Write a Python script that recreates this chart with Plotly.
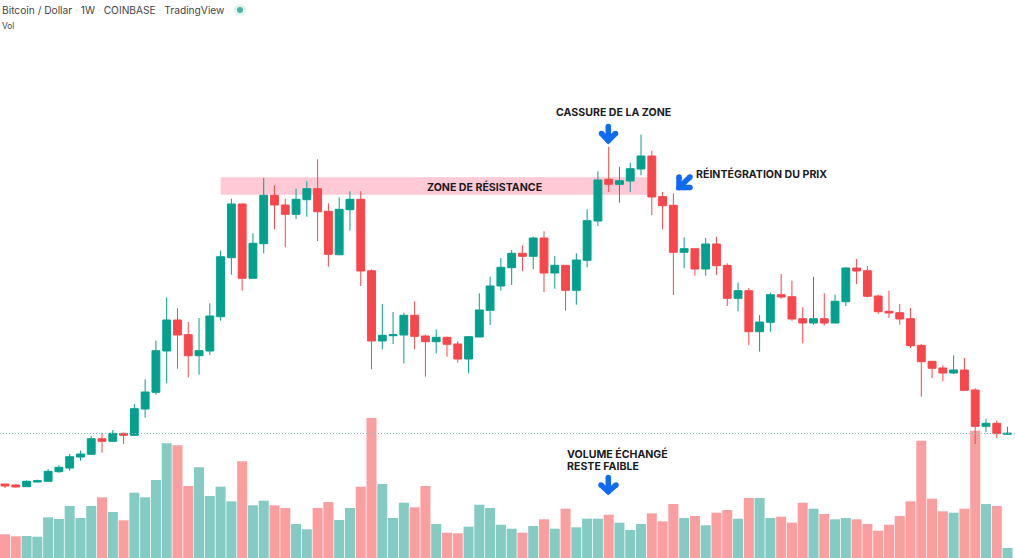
import plotly.graph_objects as go

W, H = 1015, 558
BAR_STEP = 10.78
FIRST_X = 5

GREEN = "#03A08E"
RED = "#F8474B"
VOL_GREEN = "#84CBC3"
VOL_RED = "#FB9EA0"
BLUE = "#0F6BF2"
INK = "#1C1C1E"

opens = [74, 73, 71.3, 76, 76.7, 86.3, 90, 101, 103.7, 119.3, 116.7, 124.7, 122.7, 149, 165.7, 207,
         238, 223.3, 202.3, 207, 241.3, 300.3, 354, 279.7, 314.3, 362.7, 353, 343.7, 358.3, 369.3, 346.7, 303.3,
         348.3, 358.7, 287.3, 217, 222.3, 223, 242.7, 222, 216.3, 220.7, 214, 199, 221, 247.7, 272, 290.3,
         304.7, 301.7, 320, 285, 292.7, 267.7, 297.7, 337, 378.7, 373.7, 377, 389, 402, 361.3, 352.7, 305.7,
         309.3, 289, 314, 292.7, 259.7, 267.3, 226.3, 235.7, 263.3, 261.3, 239.3, 235, 239.3, 235, 256.3, 290,
         287.3, 262, 246.7, 245.3, 239.3, 212.7, 196.7, 190, 185, 188, 168, 131.7, 134.7, 123.7]
highs = [74, 74, 77.7, 78.3, 89, 92.7, 104, 107.3, 122, 125.3, 128, 125.3, 154, 178.7, 217.3, 260.7,
         249.7, 236, 240, 254.7, 307.3, 359.3, 354.7, 324.7, 380, 372.7, 359.3, 369.3, 376.7, 398.7, 354.7, 360.7,
         366.7, 366.7, 288.7, 254, 246, 245.3, 256.7, 223.3, 228.7, 221.3, 216.7, 222, 264.7, 281.3, 300, 308,
         312.7, 321.3, 326.7, 302, 292.7, 304.7, 348.7, 386.7, 411.3, 391.3, 395.3, 423.3, 407.3, 366, 364.7, 320.7,
         309.3, 320, 321.3, 294.7, 275.3, 270, 243, 265.3, 284, 277.3, 250.7, 281.3, 264.7, 263.3, 290.7, 299,
         292, 263.3, 267.3, 254, 250, 214, 197, 192.7, 202.7, 200, 169.7, 139.3, 137.3, 131.3]
lows = [70, 70.5, 71.3, 75.7, 76.7, 85.3, 87.3, 97.3, 103.7, 105.3, 116.7, 114, 122, 140.3, 163.3, 174.7,
        189.3, 180.7, 183.3, 203, 237.3, 283.3, 267.3, 279.7, 304.7, 328.7, 310.7, 339, 341.3, 317, 291.3, 302.7,
        327.3, 272, 188.7, 208.7, 214, 194.7, 208.7, 181.3, 204.7, 201.3, 195.3, 184.7, 221, 233, 267.3, 273,
        286.7, 288.7, 266, 269.3, 247.3, 253.3, 290.7, 332, 366, 355.3, 366, 382.7, 343, 328.7, 263, 289.7,
        282.3, 282.3, 283, 252, 246.7, 212.7, 206.3, 226.3, 259.3, 237.3, 214.7, 233.3, 232.7, 234.7, 252, 274,
        260.7, 244, 240, 233.3, 210, 161.3, 180, 176.7, 184, 167.7, 114, 126, 120, 123.4]
closes = [72, 71, 76.7, 77.3, 86.7, 90.7, 101.3, 104, 119.3, 116.7, 124.7, 122.7, 149.3, 166, 207.3, 238,
          223, 202.3, 207.3, 242, 301.3, 354, 279.7, 314.7, 362.7, 353, 343.7, 358.7, 369.3, 346.3, 303.7, 348.7,
          358.7, 287, 217, 222.7, 223.3, 242.7, 221.7, 216.3, 220.7, 213.7, 199, 221.3, 248, 272, 290.7, 304.7,
          301.7, 320, 285, 292.7, 267.7, 298, 337.3, 378, 373.7, 377.3, 389.3, 402, 361, 352.3, 305.7, 309.3,
          289, 314, 292.3, 259.7, 267.3, 226.3, 236, 263.3, 261, 239, 235, 239.3, 235, 256.7, 290, 287,
          261.7, 246.3, 245, 239, 212.3, 196.3, 189.7, 185, 188, 167.7, 131.7, 134.7, 124.3, 124.7]
volumes = [23.7, 21.7, 22, 21.3, 40.7, 39, 52, 40, 52, 60.7, 46, 37.7, 65.3, 60.7, 78, 114.7,
           112.7, 72, 90.7, 62, 71.3, 56.7, 96.7, 52.7, 57.3, 52.7, 50, 34, 28.7, 50, 56, 38,
           50, 71.3, 140, 74, 40, 55.3, 50.7, 72, 34, 25.3, 24.7, 31.3, 53.3, 50, 33.3, 29.3,
           25.3, 32, 38.7, 29.3, 49.3, 30.7, 39.3, 39.3, 43.3, 35.3, 28, 34, 44.7, 36.7, 54, 40,
           42, 32.7, 45.3, 48, 39.3, 60, 60, 40, 41.3, 35.3, 55.3, 49.3, 44, 38.7, 40, 38.7,
           34, 27.3, 33.3, 42, 56.7, 117.3, 59.3, 46.7, 45.3, 49.3, 127.3, 54, 52, 10]
weeks = list(range(len(closes)))

zone_start, zone_end = 20, 60
zone_low, zone_high = 363.3, 380.7
last_price = 124.5

# arrows, as pixel points of the picture (tail, tip, two barbs)
arrows = [
    [(608.3, 126.5), (608.3, 140.5), (601.5, 133.5), (615.5, 133.5)],
    [(690, 177), (679, 187.5), (679, 177), (690, 187.5)],
    [(608.3, 477.5), (608.3, 491.5), (601, 485), (616, 485)],
]


def to_x(px):
    return (px - FIRST_X) / BAR_STEP


def to_y(py):
    return H - py


fig = go.Figure()

vol_colors = [VOL_GREEN if c >= o else VOL_RED for o, c in zip(opens, closes)]
fig.add_trace(go.Bar(x=weeks, y=volumes, marker=dict(color=vol_colors, line_width=0), showlegend=False))

fig.add_trace(go.Candlestick(
    x=weeks, open=opens, high=highs, low=lows, close=closes,
    increasing=dict(line=dict(color=GREEN, width=1), fillcolor=GREEN),
    decreasing=dict(line=dict(color=RED, width=1), fillcolor=RED),
    whiskerwidth=0,
    showlegend=False,
))

for tail, tip, barb_a, barb_b in arrows:
    pts = [tail, tip, None, barb_a, tip, barb_b]
    xs = [to_x(p[0]) if p else None for p in pts]
    ys = [to_y(p[1]) if p else None for p in pts]
    fig.add_trace(go.Scatter(
        x=xs, y=ys, mode="lines+markers",
        line=dict(color=BLUE, width=5.5),
        marker=dict(color=BLUE, size=5.5),
        hoverinfo="skip", showlegend=False,
    ))

# status dot next to the title
fig.add_trace(go.Scatter(
    x=[to_x(240), to_x(240)], y=[to_y(10), to_y(10)], mode="markers",
    marker=dict(color=["#D5EEEA", "#089981"], size=[12, 6], line_width=0),
    hoverinfo="skip", showlegend=False,
))

fig.add_shape(type="rect", x0=zone_start, x1=zone_end, y0=zone_low, y1=zone_high,
              fillcolor="#FFC9D5", line_width=0, layer="below")
fig.add_shape(type="line", x0=to_x(0), x1=to_x(W), y0=last_price, y1=last_price,
              line=dict(color="#7FC4BD", width=1, dash="1px,2px"), layer="above")


def label(text, px, py, size=10.6, color=INK, weight="bold"):
    if weight == "bold":
        text = "<b>" + text + "</b>"
    fig.add_annotation(
        text=text, x=px / W, y=1 - py / H, xref="paper", yref="paper",
        xanchor="left", yanchor="middle", showarrow=False, align="left",
        font=dict(family="Inter", size=size, color=color),
    )


label("CASSURE DE LA ZONE", 554.3, 112)
label("ZONE DE RÉSISTANCE", 424.7, 187)
label("RÉINTÉGRATION DU PRIX", 694, 173.5)
label("VOLUME ÉCHANGÉ", 564.5, 454)
label("RESTE FAIBLE", 564.5, 466)

sep = " <span style='color:#B9D8D4'>·</span> "
label("Bitcoin / Dollar" + sep + "1W" + sep + "COINBASE" + sep + "TradingView",
      -0.5, 10, size=10.2, color="#444448", weight="normal")
label("Vol", -0.5, 26, size=8.4, color="#444448", weight="normal")

fig.update_layout(
    width=W, height=H,
    margin=dict(l=0, r=0, t=0, b=0, pad=0),
    paper_bgcolor="white", plot_bgcolor="white",
    bargap=0.07, boxgap=0.27, boxgroupgap=0,
    xaxis=dict(range=[to_x(0), to_x(W)], visible=False, rangeslider=dict(visible=False)),
    yaxis=dict(range=[0, H], visible=False),
)

fig.write_html("out.html", post_script="document.body.style.margin='0';",
               config=dict(displayModeBar=False))
